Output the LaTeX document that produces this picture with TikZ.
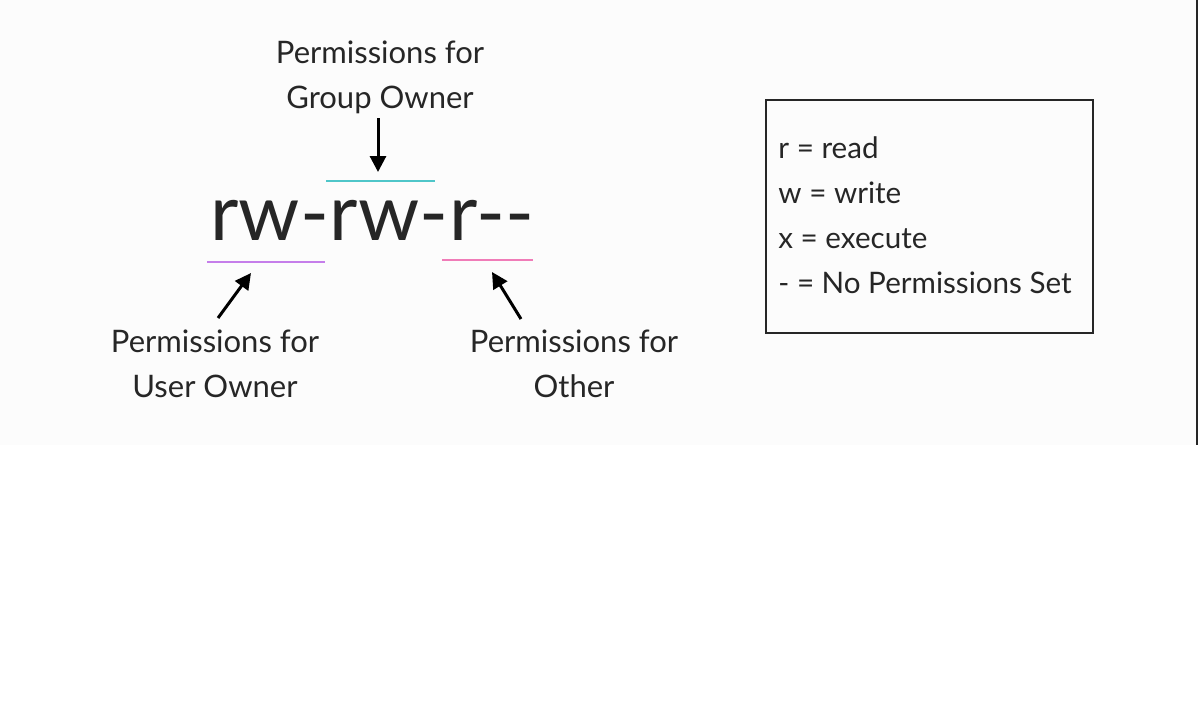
\documentclass[tikz,border=0pt]{standalone}
\usepackage{fontspec}
\setmainfont{Lato}
\usetikzlibrary{arrows.meta,positioning}

\definecolor{panelgray}{HTML}{FCFCFC}
\definecolor{groupcyan}{HTML}{4FC6C9}
\definecolor{userpurple}{HTML}{C57EEA}
\definecolor{otherpink}{HTML}{F07CB8}
\definecolor{inkgray}{HTML}{262626}

\begin{document}
\begin{tikzpicture}[
    x=0.5pt, y=-0.5pt,
    label/.style={align=center, font=\fontsize{15.5}{22.5}\selectfont, text=inkgray, inner sep=0pt},
    perm/.style={font=\fontsize{39}{39}\selectfont, text=inkgray, inner sep=0pt, anchor=base west},
    legend/.style={align=left, font=\fontsize{14.8}{22.5}\selectfont, text=inkgray, inner sep=0pt, anchor=north west},
    arr/.style={line width=1.5pt, -{Triangle[length=8pt, width=8pt]}},
    mark line/.style={line width=1.2pt}
  ]
    \useasboundingbox (0,0) rectangle (1198,720);
    \fill[panelgray] (0,0) rectangle (1196,445);
    \draw[inkgray, line width=1pt] (1197,0) -- (1197,445);

    % the permission string
    \node[perm] (user) at (210,240) {rw-};
    \node[perm, right=0pt of user.base east, anchor=base west] (group) {rw-};
    \node[perm, right=0pt of group.base east, anchor=base west] (other) {r-{}-};

    % underlines and overline
    \coordinate (gl) at (326,181);
    \coordinate (gr) at (435,181);
    \draw[mark line, groupcyan] (gl) -- (gr);
    \coordinate (ul) at (207,262);
    \coordinate (ur) at (325,262);
    \draw[mark line, userpurple] (ul) -- (ur);
    \coordinate (ol) at (442,260);
    \coordinate (or) at (533,260);
    \draw[mark line, otherpink] (ol) -- (or);

    % labels
    \node[label] (grouplab) at (380,77) {Permissions for\\Group Owner};
    \node[label] (userlab) at (215,364) {Permissions for\\User Owner};
    \node[label] (otherlab) at (574,364) {Permissions for\\Other};

    \coordinate (ga) at (378,172);
    \coordinate (ua) at (251,273);
    \coordinate (oa) at (492,272);
    \draw[arr] (378,118) -- (ga);
    \draw[arr] (218,318) -- (ua);
    \draw[arr] (521,319) -- (oa);

    % legend box
    \node[draw=inkgray, line width=0.8pt, minimum width=327*0.5pt, minimum height=233*0.5pt, anchor=north west] (legendbox) at (765,99) {};
    \node[legend] (legendtext) at (778,136) {r = read\\w = write\\x = execute\\- = No Permissions Set};
\end{tikzpicture}
\end{document}
